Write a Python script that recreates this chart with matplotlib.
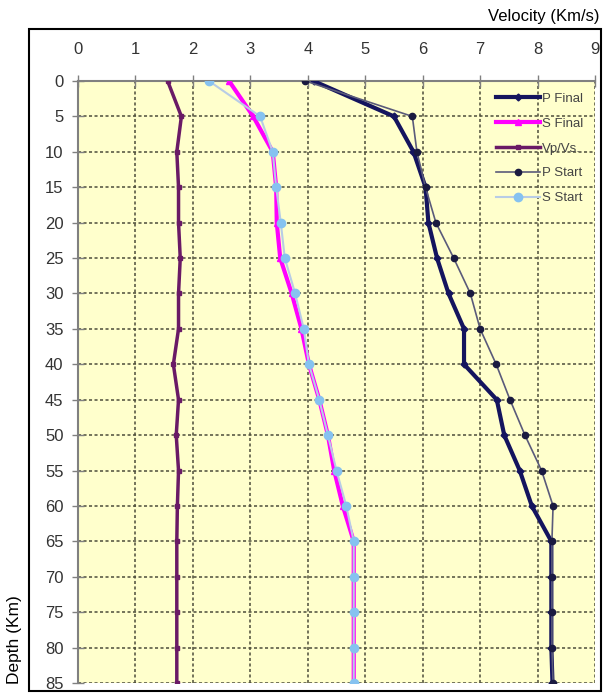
import numpy as np
import matplotlib
matplotlib.use('Agg')
from matplotlib import pyplot as plt
from matplotlib.patches import Rectangle

plt.rcParams['font.family'] = ['Liberation Sans', 'DejaVu Sans']

# depth (km) and velocities (km/s)
depth = [0, 5, 10, 15, 20, 25, 30, 35, 40, 45, 50, 55, 60, 65, 70, 75, 80, 85]
p_final = [4.10, 5.50, 5.84, 6.05, 6.10, 6.25, 6.45, 6.72, 6.72, 7.29, 7.42, 7.69, 7.90, 8.24, 8.24, 8.24, 8.24, 8.26]
s_final = [2.63, 3.05, 3.39, 3.45, 3.46, 3.52, 3.72, 3.89, 4.02, 4.20, 4.35, 4.46, 4.61, 4.80, 4.80, 4.80, 4.80, 4.80]
vp_vs = [1.56, 1.80, 1.72, 1.75, 1.75, 1.78, 1.75, 1.75, 1.66, 1.75, 1.71, 1.75, 1.73, 1.72, 1.72, 1.72, 1.72, 1.72]
p_start = [3.96, 5.82, 5.90, 6.05, 6.23, 6.54, 6.83, 7.00, 7.28, 7.52, 7.78, 8.07, 8.27, 8.25, 8.25, 8.25, 8.25, 8.27]
s_start = [2.28, 3.17, 3.39, 3.45, 3.53, 3.60, 3.78, 3.93, 4.02, 4.20, 4.35, 4.50, 4.67, 4.80, 4.80, 4.80, 4.80, 4.80]
x_ticks = np.arange(0, 10, 1)
y_ticks = np.arange(0, 90, 5)

fig = plt.figure(figsize=(6.03, 6.93), dpi=100)
ax = fig.add_axes([78/603, 1 - 683/693, (595-78)/603, (683-81)/693])
ax.set_facecolor('#ffffcc')

ax.plot(p_final, depth, color='#14145e', lw=3, marker='D', ms=3.5, label='P Final', zorder=3)
ax.plot(s_final, depth, color='#ff00ff', lw=3, marker='^', ms=5, label='S Final', zorder=3)
ax.plot(vp_vs, depth, color='#6a1a66', lw=2.5, marker='s', ms=3.5, label='Vp/Vs.', zorder=3)
ax.plot(p_start, depth, color='#5a5a7a', lw=1.2, marker='o', ms=4.5,
        mfc='#1a1a40', mec='#1a1a40', label='P Start', zorder=4)
ax.plot(s_start, depth, color='#b8cce6', lw=1.5, marker='o', ms=6,
        mfc='#86c2f0', mec='#86c2f0', label='S Start', zorder=4)

ax.set_xlim(0, 9)
ax.set_ylim(85, 0)
ax.set_xticks(x_ticks)
ax.set_yticks(y_ticks)
ax.xaxis.tick_top()
ax.tick_params(axis='both', direction='inout', length=9, width=1, color='#808080',
               labelsize=12, labelcolor='#333333')
ax.tick_params(axis='x', pad=13)
ax.tick_params(axis='y', pad=6)
ax.grid(True, color='#4d4d3a', lw=1.1, linestyle=(0, (2, 1.6)))
ax.set_axisbelow(True)
for s in ['right', 'bottom']:
    ax.spines[s].set_visible(False)
for s in ['left', 'top']:
    ax.spines[s].set_color('#808080')
    ax.spines[s].set_linewidth(1.5)

leg = ax.legend(loc='upper right', bbox_to_anchor=(1.0, 1.0), borderaxespad=0,
                fontsize=9.5, frameon=True, fancybox=False, framealpha=0,
                edgecolor='#808080', handlelength=3.3, handletextpad=0.15,
                labelspacing=0.95, borderpad=0.9)
for t in leg.get_texts():
    t.set_color('#444444')
leg.get_frame().set_linewidth(1.2)

# outer border and axis titles
fig.patches.append(Rectangle((29/603, 2/693), (601-29)/603, (664-2)/693,
                             transform=fig.transFigure, fill=False,
                             edgecolor='black', lw=1.5))
fig.text(600/603, 1 - 17/693, 'Velocity (Km/s)', ha='right', va='center', fontsize=12)
fig.text(15/603, 1 - 640/693, 'Depth (Km)', ha='center', va='center',
         rotation=90, fontsize=12.5)

fig.savefig('out.png', dpi=100)
